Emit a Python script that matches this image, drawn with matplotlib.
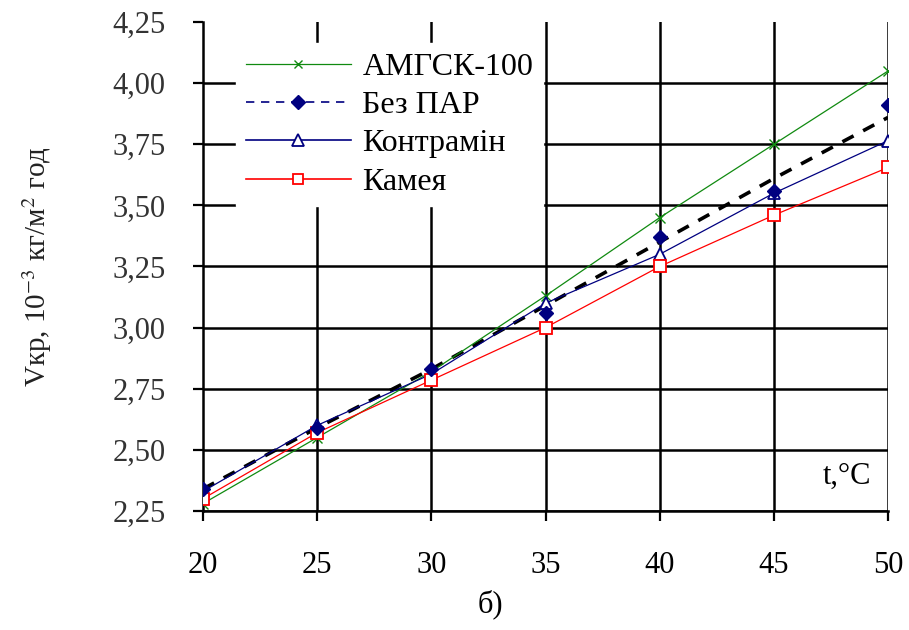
import matplotlib
matplotlib.use("Agg")
import matplotlib.pyplot as plt
from matplotlib.lines import Line2D

plt.rcParams['font.family'] = ['Liberation Serif', 'DejaVu Serif']
plt.rcParams['mathtext.fontset'] = 'stix'

# Data
t = [20, 25, 30, 35, 40, 45, 50]
amgsk = [2.28, 2.55, 2.82, 3.13, 3.45, 3.75, 4.05]
bez_par = [2.34, 2.59, 2.83, 3.06, 3.37, 3.56, 3.91]
bez_par_trend = [2.34, 2.59, 2.83, 3.09, 3.35, 3.61, 3.86]
kontramin = [2.33, 2.60, 2.81, 3.10, 3.30, 3.55, 3.765]
kameya = [2.30, 2.57, 2.785, 3.00, 3.25, 3.46, 3.655]

labels = ['АМГСК-100', 'Без ПАР', 'Контрамін', 'Камея']
xticks = [20, 25, 30, 35, 40, 45, 50]
yticks = [2.25, 2.50, 2.75, 3.00, 3.25, 3.50, 3.75, 4.00, 4.25]
ytick_labels = ['2,25', '2,50', '2,75', '3,00', '3,25', '3,50', '3,75', '4,00', '4,25']

green = '#108a10'
navy = '#000080'
red = '#ff0000'

fig = plt.figure(figsize=(9.09, 6.30), dpi=100)
ax = fig.add_axes([0.2233, 0.189, 0.7537, 0.776])

ax.plot(t, amgsk, color=green, lw=0.9, marker='x', ms=7, mew=1.0, zorder=4)
ax.plot(t, bez_par_trend, color='black', lw=2.6, ls=(0, (3.5, 3.0)), zorder=3)
ax.plot(t, kontramin, color=navy, lw=0.9, marker='^', ms=9, mfc='white', mec=navy, mew=1.3, zorder=4)
ax.plot(t, bez_par, ls='none', marker='D', ms=7.5, color=navy, zorder=5)
ax.plot(t, kameya, color=red, lw=0.9, marker='s', ms=8, mfc='white', mec=red, mew=1.3, zorder=4)

ax.set_xlim(20, 50)
ax.set_ylim(2.25, 4.25)
ax.set_xticks(xticks)
ax.set_xticklabels([str(v) for v in xticks])
ax.set_yticks(yticks)
ax.set_yticklabels(ytick_labels)

ax.grid(True, color='black', lw=1.8)
ax.set_axisbelow(True)
ax.yaxis.get_gridlines()[-1].set_visible(False)
ax.xaxis.get_gridlines()[0].set_visible(False)

for s in ['top', 'right']:
    ax.spines[s].set_visible(False)
for s in ['left', 'bottom']:
    ax.spines[s].set_linewidth(1.8)

ax.tick_params(axis='both', direction='out', length=7, width=1.6, labelsize=22, colors='black')
ax.tick_params(axis='y', labelcolor='#333333')
ax.tick_params(axis='x', pad=22)
ax.tick_params(axis='y', pad=20)

ax.set_ylabel(r'Vкр, 10$^{-3}$ кг/м$^{2}$ год', fontsize=21, labelpad=42, color='#222222')

handles = [
    Line2D([], [], color=green, lw=0.9, marker='x', ms=6, mew=1.0),
    Line2D([], [], color=navy, lw=1.2, ls=(0, (5, 4)), marker='D', ms=7),
    Line2D([], [], color=navy, lw=1.2, marker='^', ms=8, mfc='white', mec=navy, mew=1.3),
    Line2D([], [], color=red, lw=1.2, marker='s', ms=7, mfc='white', mec=red, mew=1.3),
]
leg = ax.legend(handles, labels, loc='upper left', bbox_to_anchor=(0.025, 0.99),
                fontsize=23, handlelength=3.3, handletextpad=0.35, labelspacing=0.28,
                borderpad=0.3, frameon=True, fancybox=False, framealpha=1.0)
leg.get_frame().set_edgecolor('white')
leg.get_frame().set_facecolor('white')
leg.set_zorder(6)

ax.text(0.975, 0.07, 't,°C', transform=ax.transAxes, ha='right', va='center', fontsize=22,
        bbox=dict(facecolor='white', edgecolor='none', pad=2), zorder=6)

fig.text(0.54, 0.04, 'б)', ha='center', va='center', fontsize=22)

fig.savefig('out.png', dpi=100)
